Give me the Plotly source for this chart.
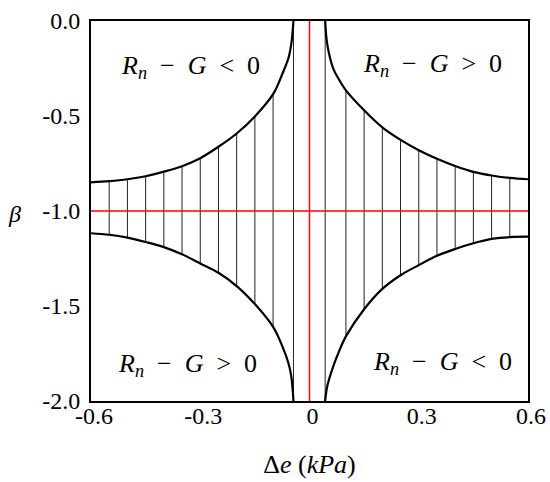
import plotly.graph_objects as go

# left branch: x positions and the upper / lower boundary of beta
left_x = [-0.6, -0.55, -0.5, -0.45, -0.4, -0.35, -0.3, -0.25, -0.2, -0.15, -0.1, -0.075, -0.058, -0.05, -0.044]
left_top = [-0.849, -0.843, -0.833, -0.817, -0.793, -0.764, -0.722, -0.662, -0.592, -0.502, -0.385, -0.28, -0.196, -0.12, 0.0]
left_bot = [-1.117, -1.125, -1.14, -1.163, -1.19, -1.228, -1.276, -1.325, -1.395, -1.49, -1.61, -1.71, -1.8, -1.87, -2.0]

# right branch
right_x = [0.043, 0.049, 0.065, 0.08, 0.1, 0.15, 0.2, 0.25, 0.3, 0.35, 0.4, 0.45, 0.5, 0.55, 0.6]
right_top = [0.0, -0.126, -0.249, -0.305, -0.365, -0.47, -0.56, -0.626, -0.68, -0.725, -0.763, -0.794, -0.813, -0.826, -0.833]
right_bot = [-2.0, -1.92, -1.819, -1.744, -1.66, -1.517, -1.41, -1.338, -1.285, -1.236, -1.2, -1.17, -1.147, -1.137, -1.135]

# x positions of the vertical hatch lines
hatch_left = [-0.55, -0.5, -0.45, -0.4, -0.35, -0.3, -0.25, -0.2, -0.15, -0.1, -0.044]
hatch_right = [0.043, 0.1, 0.15, 0.2, 0.25, 0.3, 0.35, 0.4, 0.45, 0.5, 0.55]

x_ticks = [-0.6, -0.3, 0, 0.3, 0.6]
x_labels = ["-0.6", "-0.3", "0", "0.3", "0.6"]
y_ticks = [0.0, -0.5, -1.0, -1.5, -2.0]
y_labels = ["0.0", "-0.5", "-1.0", "-1.5", "-2.0"]

lt = "<i>R</i><sub><i>n</i></sub>&nbsp; − &nbsp;<i>G</i> &nbsp;&lt; &nbsp;0"
gt = "<i>R</i><sub><i>n</i></sub>&nbsp; − &nbsp;<i>G</i> &nbsp;&gt; &nbsp;0"
region_labels = [(-0.328, -0.242, lt), (0.339, -0.232, gt), (-0.336, -1.81, gt), (0.364, -1.80, lt)]

serif = "Liberation Serif, Times New Roman, serif"


def hatch(xs, bx, top, bot):
    hx, hy = [], []
    for x in xs:
        i = min(range(len(bx)), key=lambda k: abs(bx[k] - x))
        hx += [x, x, None]
        hy += [top[i], bot[i], None]
    return hx, hy


fig = go.Figure()

hx1, hy1 = hatch(hatch_left, left_x, left_top, left_bot)
hx2, hy2 = hatch(hatch_right, right_x, right_top, right_bot)
fig.add_trace(go.Scatter(x=hx1 + hx2, y=hy1 + hy2, mode="lines",
                         line=dict(color="#222222", width=1)))

for xs, ys in [(left_x, left_top), (left_x, left_bot), (right_x, right_top), (right_x, right_bot)]:
    fig.add_trace(go.Scatter(x=xs, y=ys, mode="lines",
                             line=dict(color="black", width=2.2, shape="spline", smoothing=1)))

# red reference lines
fig.add_trace(go.Scatter(x=[0, 0], y=[0, -2], mode="lines", line=dict(color="red", width=1.5)))
fig.add_trace(go.Scatter(x=[-0.6, 0.6], y=[-1.0, -1.0], mode="lines", line=dict(color="red", width=1.5)))

for x, y, t in region_labels:
    fig.add_annotation(x=x, y=y, text=t, showarrow=False,
                       font=dict(family=serif, size=26, color="black"))

# beta label, horizontal, left of the y ticks
fig.add_annotation(x=(14 - 91) / 437, y=(482 - 81 - 214) / 380, xref="paper", yref="paper",
                   text="<i>β</i>", showarrow=False, xanchor="center", yanchor="middle",
                   font=dict(family=serif, size=24, color="black"))

fig.update_layout(
    width=550, height=482,
    margin=dict(l=91, r=22, t=21, b=81, autoexpand=False),
    plot_bgcolor="white", paper_bgcolor="white",
    showlegend=False,
    font=dict(family=serif, size=24, color="black"),
)

fig.update_xaxes(range=[-0.6, 0.6], tickvals=x_ticks, ticktext=x_labels,
                 showgrid=False, zeroline=False, showline=True, mirror=True,
                 linecolor="black", linewidth=2, ticks="", ticklabelstandoff=-8,
                 ticklabelshift=3, automargin=False,
                 title=dict(text="Δ<i>e</i> (<i>kPa</i>)", font=dict(size=26), standoff=27))
fig.update_yaxes(range=[-2.0, 0.0], tickvals=y_ticks, ticktext=y_labels,
                 showgrid=False, zeroline=False, showline=True, mirror=True,
                 linecolor="black", linewidth=2, ticks="", ticklabelstandoff=4,
                 automargin=False)

fig.write_html("out.html", config={"displayModeBar": False},
               post_script="document.body.style.margin='0';")
